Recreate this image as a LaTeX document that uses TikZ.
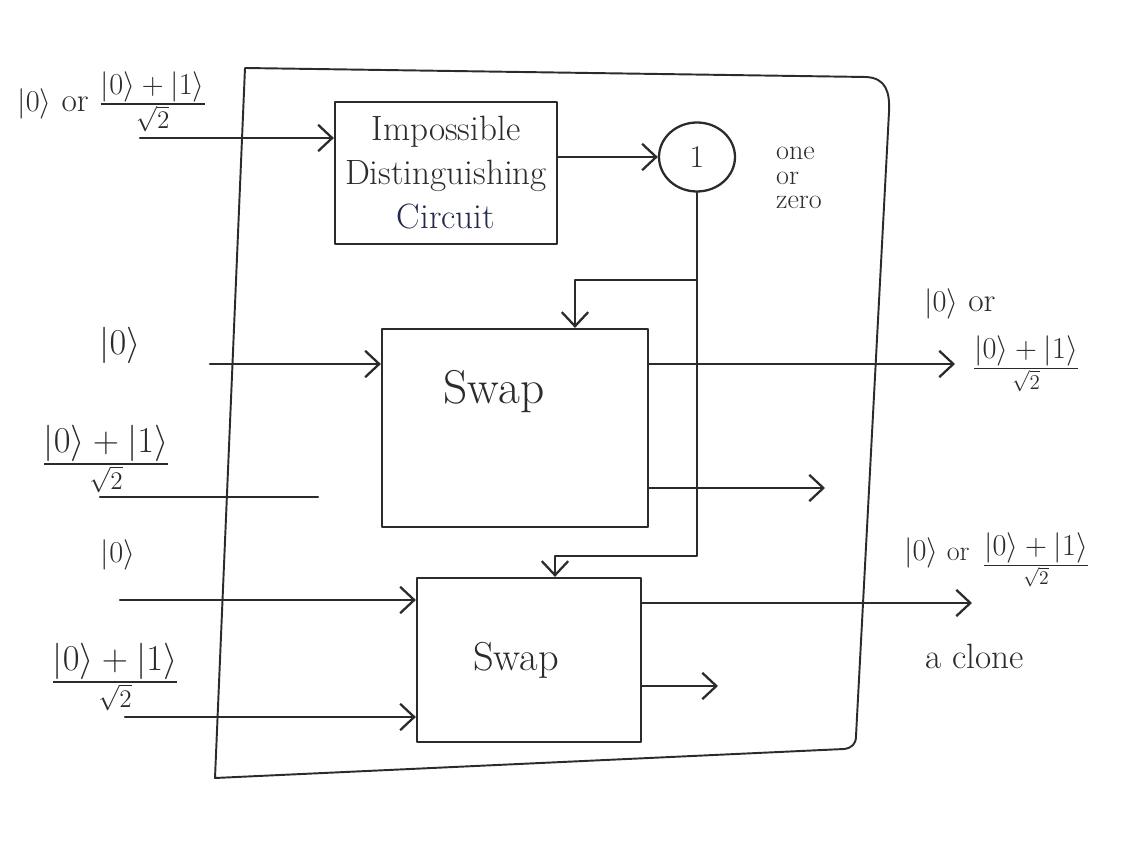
\documentclass[tikz,border=0pt]{standalone}
\usepackage{amsmath}
\usetikzlibrary{arrows.meta,shapes.geometric,calc}
\definecolor{ink}{HTML}{2B2B2B}
\definecolor{inkblue}{HTML}{23294A}
\tikzset{
  pen/.style={draw=ink, line width=1.3pt, line cap=round, line join=round},
  arr/.style={pen, -{Straight Barb[length=8pt,width=15pt,line width=1.3pt]}},
  blockbox/.style={pen, rectangle, inner sep=0pt},
  lbl/.style={text=ink, inner sep=1pt},
}
\newcommand{\ketz}{|0\rangle}
\newcommand{\plusst}{\genfrac{}{}{}{1}{\displaystyle |0\rangle+|1\rangle}{\scriptstyle\sqrt{2}}}
\begin{document}
\begin{tikzpicture}[x=0.02cm,y=-0.02cm]
\useasboundingbox (0,0) rectangle (1140,844);

% outer frame
\draw[draw=ink, line width=1.1pt, line join=round]
  (245,68) -- (866,77) .. controls (886,78) and (890,92) .. (889,112)
  -- (856,736) .. controls (856,744) and (852,748) .. (844,749)
  -- (215,778) -- cycle;

% blocks
\node[blockbox, minimum width=4.44cm, minimum height=2.84cm, align=center,
      font=\fontsize{20}{25}\selectfont, text=ink] (idc) at (446,173)
      {Impossible\\Distinguishing\\\textcolor{inkblue}{Circuit}};
\node[pen, ellipse, minimum width=1.52cm, minimum height=1.38cm,
      font=\fontsize{18}{20}\selectfont, text=ink] (meas) at (697,157) {1};
\node[lbl, align=left, font=\fontsize{16}{14}\selectfont, anchor=west] (oz) at (774,178) {one\\or\\zero};

\node[blockbox, minimum width=5.32cm, minimum height=3.96cm] (s1) at (515,428) {};
\node[lbl, font=\fontsize{27}{30}\selectfont] (s1t) at (494,392) {Swap};

\node[blockbox, minimum width=4.48cm, minimum height=3.28cm] (s2) at (529,660) {};
\node[lbl, font=\fontsize{23}{26}\selectfont] (s2t) at (516,660) {Swap};

% control lines
\coordinate (j1) at (697,280);
\coordinate (j2) at (697,556);
\draw[arr] (meas.south) -- (j1) -| ([xshift=1.2cm]s1.north);
\draw[arr] (j1) -- (j2) -| ([xshift=0.52cm]s2.north);

% input to circuit
\coordinate (in0) at (140,138);
\draw[arr] (in0) -- (in0 -| idc.west);
\node[lbl, font=\fontsize{19}{20}\selectfont] (l0) at (112,102) {$\ketz$ or $\plusst$};
\draw[arr] (idc.east |- meas.west) -- (meas.west);

% swap 1 inputs
\coordinate (a1) at (210,364);
\draw[arr] (a1) -- (a1 -| s1.west);
\node[lbl, font=\fontsize{21}{22}\selectfont] (la1) at (120,345) {$\ketz$};
\coordinate (b1s) at (100,497);
\coordinate (b1e) at (318,497);
\draw[pen] (b1s) -- (b1e);
\node[lbl, font=\fontsize{20}{22}\selectfont] (lb1) at (106,459) {$\plusst$};

% swap 1 outputs
\coordinate (o1) at (955,364);
\draw[arr] (o1 -| s1.east) -- (o1);
\node[lbl, font=\fontsize{19}{22}\selectfont, anchor=west] (lo1a) at (922,304) {$\ketz$ or};
\node[lbl, font=\fontsize{18}{22}\selectfont] (lo1b) at (1026,364) {$\plusst$};
\coordinate (o2) at (825,488);
\draw[arr] (o2 -| s1.east) -- (o2);

% swap 2 inputs
\coordinate (a2) at (120,600);
\draw[arr] (a2) -- (a2 -| s2.west);
\node[lbl, font=\fontsize{16}{18}\selectfont] (la2) at (118,555) {$\ketz$};
\coordinate (b2) at (125,717);
\draw[arr] (b2) -- (b2 -| s2.west);
\node[lbl, font=\fontsize{20}{22}\selectfont] (lb2) at (115,677) {$\plusst$};

% swap 2 outputs
\coordinate (o3) at (972,603);
\draw[arr] (o3 -| s2.east) -- (o3);
\node[lbl, font=\fontsize{16}{18}\selectfont, anchor=west] (lo3a) at (902,553) {$\ketz$ or};
\node[lbl, font=\fontsize{16}{20}\selectfont] (lo3b) at (1036,560) {$\plusst$};
\node[lbl, font=\fontsize{20}{22}\selectfont] (clone) at (975,656) {a clone};
\coordinate (o4) at (718,686);
\draw[arr] (o4 -| s2.east) -- (o4);
\end{tikzpicture}
\end{document}
